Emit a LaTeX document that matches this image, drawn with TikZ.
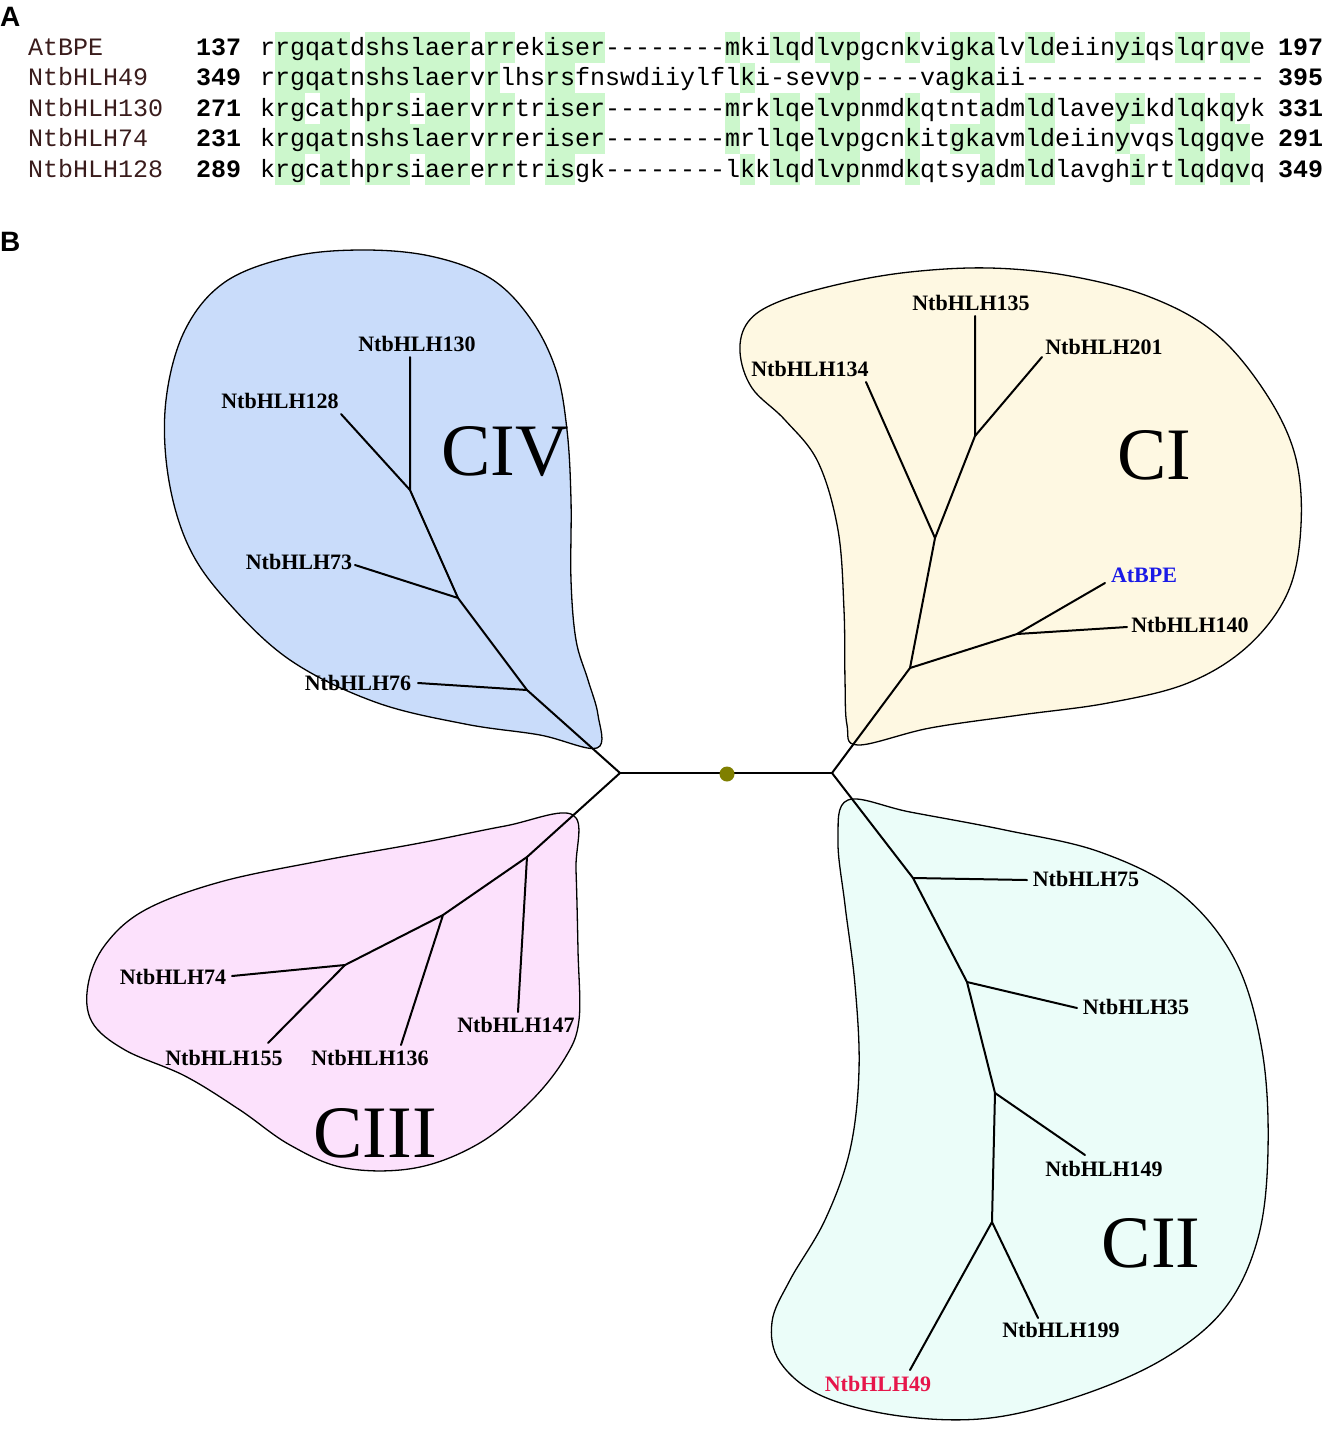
\documentclass[tikz,border=0pt]{standalone}
\usepackage{fontspec}
\setmainfont{Liberation Serif}
\setsansfont{Liberation Sans}
\setmonofont{Liberation Mono}[Ligatures=CommonOff]
\usepackage{xcolor}
\definecolor{HLGreen}{HTML}{CCF7CC}
\definecolor{CIVBlue}{HTML}{C9DCFA}
\definecolor{CICream}{HTML}{FEF8E2}
\definecolor{CIICyan}{HTML}{EBFDF9}
\definecolor{CIIIPink}{HTML}{FCE1FC}
\definecolor{RootOlive}{HTML}{7F7F00}
\definecolor{LabRed}{HTML}{E6164B}
\definecolor{LabBlue}{HTML}{1A1AE6}
\definecolor{NameRed}{HTML}{3A1C1C}
\usepackage{tikz}

\begin{document}
\begin{tikzpicture}[
  x=1pt, y=-1pt,
  panel/.style={font=\sffamily\bfseries\fontsize{28}{30}\selectfont, inner sep=0pt, anchor=base west},
  seqname/.style={font=\ttfamily\fontsize{25}{30}\selectfont, text=NameRed, inner sep=0pt, anchor=base west},
  seqnum/.style={font=\ttfamily\bfseries\fontsize{25}{30}\selectfont, inner sep=0pt, anchor=base west},
  seqtext/.style={font=\ttfamily\fontsize{25}{30}\selectfont, text=black, inner sep=0pt, anchor=base west},
  hl/.style={fill=HLGreen},
  clade/.style={draw=black, line width=1.3pt},
  cname/.style={font=\fontsize{74}{76}\selectfont, inner sep=0pt},
  leaf/.style={font=\bfseries\fontsize{22}{24}\selectfont, inner sep=0pt},
  branch/.style={line width=2pt, line cap=round, line join=round},
]
\useasboundingbox (0,0) rectangle (1324,1441);
\fill[white] (0,0) rectangle (1324,1441);

% A: alignment
\node[panel] (pa) at (0,26) {A};
\foreach \r/\cols in {
  1/{2,3,4,5,6,8,9,10,11,12,13,14,16,17,20,21,22,23,32,35,36,38,39,40,44,47,48,49,52,53,58,59,62,63,65,66},
  2/{2,3,4,5,6,8,9,10,11,12,13,14,16,20,21,33,39,40,47,48,49},
  3/{2,3,5,6,8,9,10,12,13,14,16,17,20,21,22,23,32,35,36,38,39,40,44,49,52,53,58,59,62,63,65},
  4/{2,3,4,5,6,8,9,10,11,12,13,14,16,17,20,21,22,23,32,35,36,38,39,40,44,47,48,49,52,53,58,62,63,65,66},
  5/{2,3,5,6,8,9,10,12,13,14,16,17,20,21,33,35,36,38,39,40,44,49,52,53,59,62,63,65,66}}
  \foreach \c in \cols
    \fill[hl] ({245+\c*15},{1.5+\r*30.5}) rectangle +(15.3,30.8);

\foreach \r/\nm/\st/\sq/\en in {
  1/AtBPE/137/rrgqatdshslaerarrekiser--------mkilqdlvpgcnkvigkalvldeiinyiqslqrqve/197,
  2/NtbHLH49/349/rrgqatnshslaervrlhsrsfnswdiiylflki-sevvp----vagkaii----------------/395,
  3/NtbHLH130/271/krgcathprsiaervrrtriser--------mrklqelvpnmdkqtntadmldlaveyikdlqkqyk/331,
  4/NtbHLH74/231/krgqatnshslaervrreriser--------mrllqelvpgcnkitgkavmldeiinyvqslqgqve/291,
  5/NtbHLH128/289/krgcathprsiaererrtrisgk--------lkklqdlvpnmdkqtsyadmldlavghirtlqdqvq/349}
{
  \node[seqname] (nm\r) at (28,{24.5+\r*30.5}) {\nm};
  \node[seqnum] (st\r) at (196,{24.5+\r*30.5}) {\st};
  \node[seqtext] (sq\r) at (260,{24.5+\r*30.5}) {\sq};
  \node[seqnum] (en\r) at (1278,{24.5+\r*30.5}) {\en};
}

% B: tree
\node[panel] (pb) at (0,251) {B};

% clades
\draw[clade, fill=CIVBlue] plot[smooth cycle, tension=0.6] coordinates {
  (597,748) (598,715) (588,680) (576,640) (571,580) (571,500) (567,430)
  (556,370) (530,318) (490,278) (430,256) (360,250) (290,257) (225,282)
  (185,330) (166,400) (168,475) (188,545) (226,600) (290,660) (375,702)
  (465,724) (540,735)};
\draw[clade, fill=CICream] plot[smooth cycle, tension=0.6] coordinates {
  (858,745) (847,725) (845,680) (844,610) (838,530) (818,462) (785,420)
  (752,388) (740,352) (748,322) (778,302) (840,284) (910,272) (990,268)
  (1070,276) (1150,297) (1215,333) (1265,392) (1295,455) (1301,525)
  (1288,592) (1248,646) (1188,683) (1108,703) (1020,715) (930,728)};
\draw[clade, fill=CIICyan] plot[smooth cycle, tension=0.6] coordinates {
  (848,800) (910,812) (1005,830) (1100,852) (1180,893) (1235,960)
  (1262,1050) (1268,1150) (1258,1238) (1225,1308) (1165,1358) (1082,1395)
  (990,1418) (900,1416) (822,1396) (780,1362) (772,1322) (790,1280)
  (825,1220) (850,1150) (859,1070) (855,985) (845,905) (838,840)};
\draw[clade, fill=CIIIPink] plot[smooth cycle, tension=0.6] coordinates {
  (573,815) (576,870) (578,950) (579,1020) (565,1058) (530,1102)
  (478,1144) (415,1168) (345,1168) (290,1145) (240,1110) (185,1076)
  (125,1050) (92,1022) (88,985) (105,945) (145,910) (220,882) (320,861)
  (420,843) (505,826)};

\node[cname] (civ) at (505,452) {CIV};
\node[cname] (ci) at (1154,455) {CI};
\node[cname] (ciii) at (375,1133) {CIII};
\node[cname] (cii) at (1151,1243) {CII};

% backbone
\coordinate (lft) at (620,773);
\coordinate (rgt) at (832,773);
\draw[branch, line width=2.6pt] (lft) -- (rgt);
\node[circle, fill=RootOlive, minimum size=15pt, inner sep=0pt] (root) at (727,774) {};

% CIV
\coordinate (c4a) at (527,690);
\coordinate (c4b) at (458,598);
\coordinate (c4c) at (410,490);
\coordinate (t130) at (410,357);
\coordinate (t128) at (341,414);
\coordinate (t73) at (355,565);
\coordinate (t76) at (418,683);
\draw[branch] (lft) -- (c4a) -- (c4b) -- (c4c) -- (t130);
\draw[branch] (c4c) -- (t128);
\draw[branch] (c4b) -- (t73);
\draw[branch] (c4a) -- (t76);

% CIII
\coordinate (c3a) at (527,857);
\coordinate (c3b) at (443,915);
\coordinate (c3c) at (345,965);
\coordinate (t147) at (518,1012);
\coordinate (t136) at (401,1045);
\coordinate (t74) at (232,976);
\coordinate (t155) at (268,1043);
\draw[branch] (lft) -- (c3a) -- (c3b) -- (c3c) -- (t74);
\draw[branch] (c3a) -- (t147);
\draw[branch] (c3b) -- (t136);
\draw[branch] (c3c) -- (t155);

% CI
\coordinate (c1a) at (910,668);
\coordinate (c1b) at (1017,634);
\coordinate (c1c) at (935,538);
\coordinate (c1d) at (975,436);
\coordinate (tat) at (1105,583);
\coordinate (t140) at (1127,627);
\coordinate (t134) at (866,382);
\coordinate (t135) at (975,316);
\coordinate (t201) at (1042,357);
\draw[branch] (rgt) -- (c1a) -- (c1c) -- (c1d) -- (t135);
\draw[branch] (c1a) -- (c1b) -- (t140);
\draw[branch] (c1b) -- (tat);
\draw[branch] (c1c) -- (t134);
\draw[branch] (c1d) -- (t201);

% CII
\coordinate (c2a) at (913,878);
\coordinate (c2b) at (967,982);
\coordinate (c2c) at (995,1093);
\coordinate (c2d) at (992,1222);
\coordinate (t75) at (1027,880);
\coordinate (t35) at (1077,1008);
\coordinate (t149) at (1085,1155);
\coordinate (t199) at (1038,1318);
\coordinate (t49) at (910,1370);
\draw[branch] (rgt) -- (c2a) -- (c2b) -- (c2c) -- (c2d) -- (t199);
\draw[branch] (c2a) -- (t75);
\draw[branch] (c2b) -- (t35);
\draw[branch] (c2c) -- (t149);
\draw[branch] (c2d) -- (t49);

% leaf labels
\node[leaf] (n130) at (417,344) {NtbHLH130};
\node[leaf] (n128) at (280,401) {NtbHLH128};
\node[leaf] (n73) at (299,562) {NtbHLH73};
\node[leaf] (n76) at (358,683) {NtbHLH76};
\node[leaf] (n134) at (810,369) {NtbHLH134};
\node[leaf] (n135) at (971,303) {NtbHLH135};
\node[leaf] (n201) at (1104,347) {NtbHLH201};
\node[leaf, text=LabBlue] (nat) at (1144,575) {AtBPE};
\node[leaf] (n140) at (1190,625) {NtbHLH140};
\node[leaf] (n75) at (1086,879) {NtbHLH75};
\node[leaf] (n35) at (1136,1007) {NtbHLH35};
\node[leaf] (n149) at (1104,1169) {NtbHLH149};
\node[leaf] (n199) at (1061,1330) {NtbHLH199};
\node[leaf, text=LabRed] (n49) at (878,1384) {NtbHLH49};
\node[leaf] (n74) at (173,977) {NtbHLH74};
\node[leaf] (n155) at (224,1058) {NtbHLH155};
\node[leaf] (n136) at (370,1058) {NtbHLH136};
\node[leaf] (n147) at (516,1025) {NtbHLH147};
\end{tikzpicture}
\end{document}
